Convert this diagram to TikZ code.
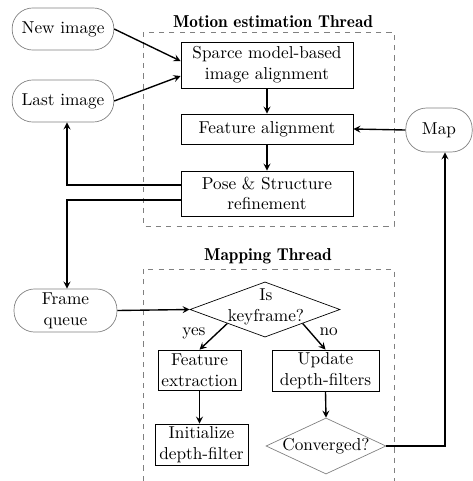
\documentclass[tikz,border=0pt]{standalone}
\usepackage{amsmath}
\usetikzlibrary{shapes.geometric}

\begin{document}
\begin{tikzpicture}[x=0.58pt,y=-0.58pt,
  blk/.style={draw,thin,align=center,inner sep=1pt},
  io/.style={draw=gray,thin,rounded corners=12pt,align=center,inner sep=1pt},
  dec/.style={diamond,draw,inner sep=0pt},
  arr/.style={thick,-stealth},
  thr/.style={draw=gray,dashed,thin},
  ttl/.style={font=\fontseries{b}\selectfont}]

\useasboundingbox (0,0) rectangle (472,481);

% thread frames
\draw [thr] (143,32) rectangle (394,226);
\draw [thr] (143,481) -- (143,269) -- (394,269) -- (394,481);
\node [ttl] (mot) at (273,22) {Motion estimation Thread};
\node [ttl] (mapt) at (268,256) {Mapping Thread};

% inputs and outputs
\node [io,minimum width=59pt,minimum height=24.4pt] (newimg) at (63,29) {New image};
\node [io,minimum width=59pt,minimum height=24.4pt] (lastimg) at (63,101) {Last image};
\node [io,minimum width=38.5pt,minimum height=25.5pt] (map) at (439,130) {Map};
\node [io,minimum width=59.7pt,minimum height=25pt] (frameq) at (65.5,310.5) {Frame\\queue};

% motion estimation
\node [blk,minimum width=99.8pt,minimum height=26.7pt] (sparse) at (267,65) {Sparce model-based\\image alignment};
\node [blk,minimum width=99.8pt,minimum height=17.4pt] (featal) at (267,129) {Feature alignment};
\node [blk,minimum width=99.8pt,minimum height=26.1pt] (pose) at (267,193.5) {Pose \& Structure\\refinement};

% mapping
\node [dec,minimum width=87pt,minimum height=32pt] (kf) at (265,309.5) {};
\node [align=center,inner sep=0pt] (kftxt) at (266,307) {Is\\keyframe?};
\node [blk,minimum width=48.1pt,minimum height=23.2pt] (featex) at (199.5,370) {Feature\\extraction};
\node [blk,minimum width=62pt,minimum height=23.8pt] (update) at (325.5,370.5) {Update\\depth-filters};
\node [blk,minimum width=54pt,minimum height=23.8pt] (init) at (201.5,444.5) {Initialize\\depth-filter};
\node [dec,draw=gray,minimum width=69.6pt,minimum height=32.5pt] (conv) at (326,446) {};
\node [inner sep=0pt] (convtxt) at (326,446) {Converged?};

% connectors
\draw [arr] (newimg.east) -- ([yshift=2.3pt]sparse.west);
\draw [arr] (lastimg.east) -- ([yshift=-6.4pt]sparse.west);
\draw [arr] (sparse) -- (featal);
\draw [arr] (featal) -- (pose);
\draw [arr] (map.west) -- (featal.east);
\draw [arr] ([yshift=4.9pt]pose.west) -| ([xshift=2.3pt]lastimg.south);
\draw [arr] ([yshift=-3.8pt]pose.west) -| ([xshift=0.9pt]frameq.north);
\draw [arr] (frameq.east) -- (kf.west);
\draw [arr] (kf.south west) -- node [above left,inner sep=1pt,pos=0.7] (yes) {yes} (featex.north);
\draw [arr] (kf.south east) -- node [above right,inner sep=1.5pt,pos=0.6] (no) {no} (update.north);
\draw [arr] (featex.south) -- (featex.south |- init.north);
\draw [arr] (update.south) -- (conv.north);
\draw [arr] (conv.east) -| ([xshift=3.5pt]map.south);

\end{tikzpicture}
\end{document}
